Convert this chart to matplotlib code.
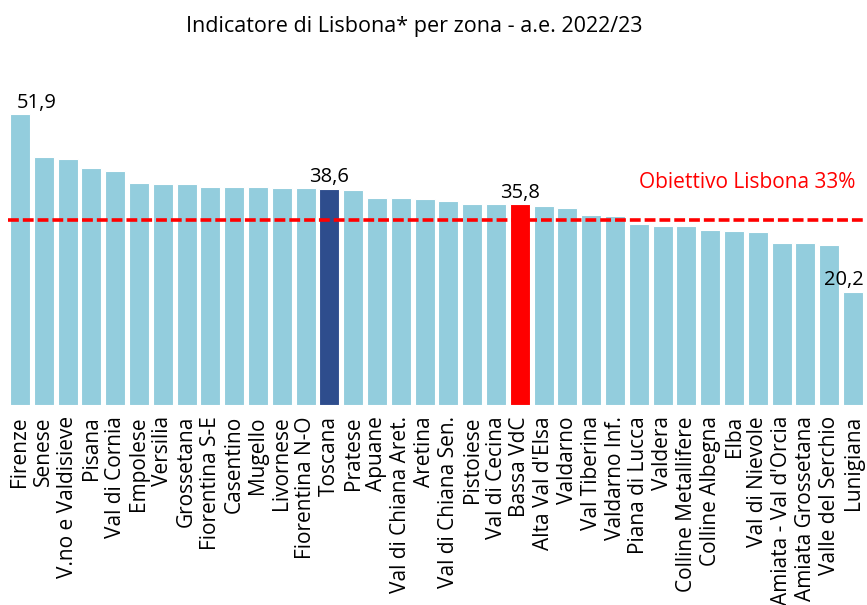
import numpy as np
import matplotlib.pyplot as plt

plt.rcParams['font.family'] = ['Open Sans', 'DejaVu Sans']

zone = ["Firenze", "Senese", "V.no e Valdisieve", "Pisana", "Val di Cornia",
        "Empolese", "Versilia", "Grossetana", "Fiorentina S-E", "Casentino",
        "Mugello", "Livornese", "Fiorentina N-O", "Toscana", "Pratese",
        "Apuane", "Val di Chiana Aret.", "Aretina", "Val di Chiana Sen.",
        "Pistoiese", "Val di Cecina", "Bassa VdC", "Alta Val d'Elsa", "Valdarno",
        "Val Tiberina", "Valdarno Inf.", "Piana di Lucca", "Valdera",
        "Colline Metallifere", "Colline Albegna", "Elba", "Val di Nievole",
        "Amiata - Val d'Orcia", "Amiata Grossetana", "Valle del Serchio",
        "Lunigiana"]
valori = [51.9, 44.2, 43.8, 42.2, 41.7, 39.6, 39.4, 39.4, 38.9, 38.9,
          38.9, 38.7, 38.7, 38.6, 38.3, 36.9, 36.9, 36.7, 36.4, 35.9,
          35.9, 35.8, 35.5, 35.1, 33.9, 33.7, 32.2, 32.0, 32.0, 31.2,
          31.1, 30.8, 28.9, 28.9, 28.5, 20.2]
obiettivo = 33

col_base = '#93CDDD'
colori = [col_base] * len(zone)
colori[zone.index("Toscana")] = '#2E4D8D'
colori[zone.index("Bassa VdC")] = '#FF0000'

fig = plt.figure(figsize=(8.67, 6.05), dpi=100)
ax = fig.add_axes([8/867, 200/605, 857/867, 314/605])

x = np.arange(len(zone))
ax.bar(x, valori, width=0.84, color=colori, edgecolor='white', linewidth=0.8)
ax.axhline(obiettivo, color='#FF0000', lw=2.6, ls=(0, (3.0, 1.1)), zorder=3)

ax.set_xlim(-0.5, len(zone) - 0.5)
ax.set_ylim(0, 56)
ax.set_xticks(x)
ax.set_xticklabels(zone, rotation=90, fontsize=15, va='top', ha='center')
ax.tick_params(axis='x', length=0, pad=8)
ax.set_yticks([])
for s in ax.spines.values():
    s.set_visible(False)

def etichetta(nome, ha='center', dx=0.0):
    i = zone.index(nome)
    ax.annotate(f"{valori[i]:.1f}".replace('.', ','), (i + dx, valori[i]),
                xytext=(0, 1), textcoords='offset points', ha=ha, va='bottom',
                fontsize=14.5)

etichetta("Firenze", ha='left', dx=-0.15)
etichetta("Toscana")
etichetta("Bassa VdC")
etichetta("Lunigiana", ha='right', dx=0.45)

ax.text(len(zone) - 0.92, 39.6, "Obiettivo Lisbona 33%", color='#FF0000',
        fontsize=15, ha='right', va='center')

fig.text(0.478, 0.956, "Indicatore di Lisbona* per zona - a.e. 2022/23",
         ha='center', va='center', fontsize=15.5)

fig.savefig('out.png', dpi=100, facecolor='white')
